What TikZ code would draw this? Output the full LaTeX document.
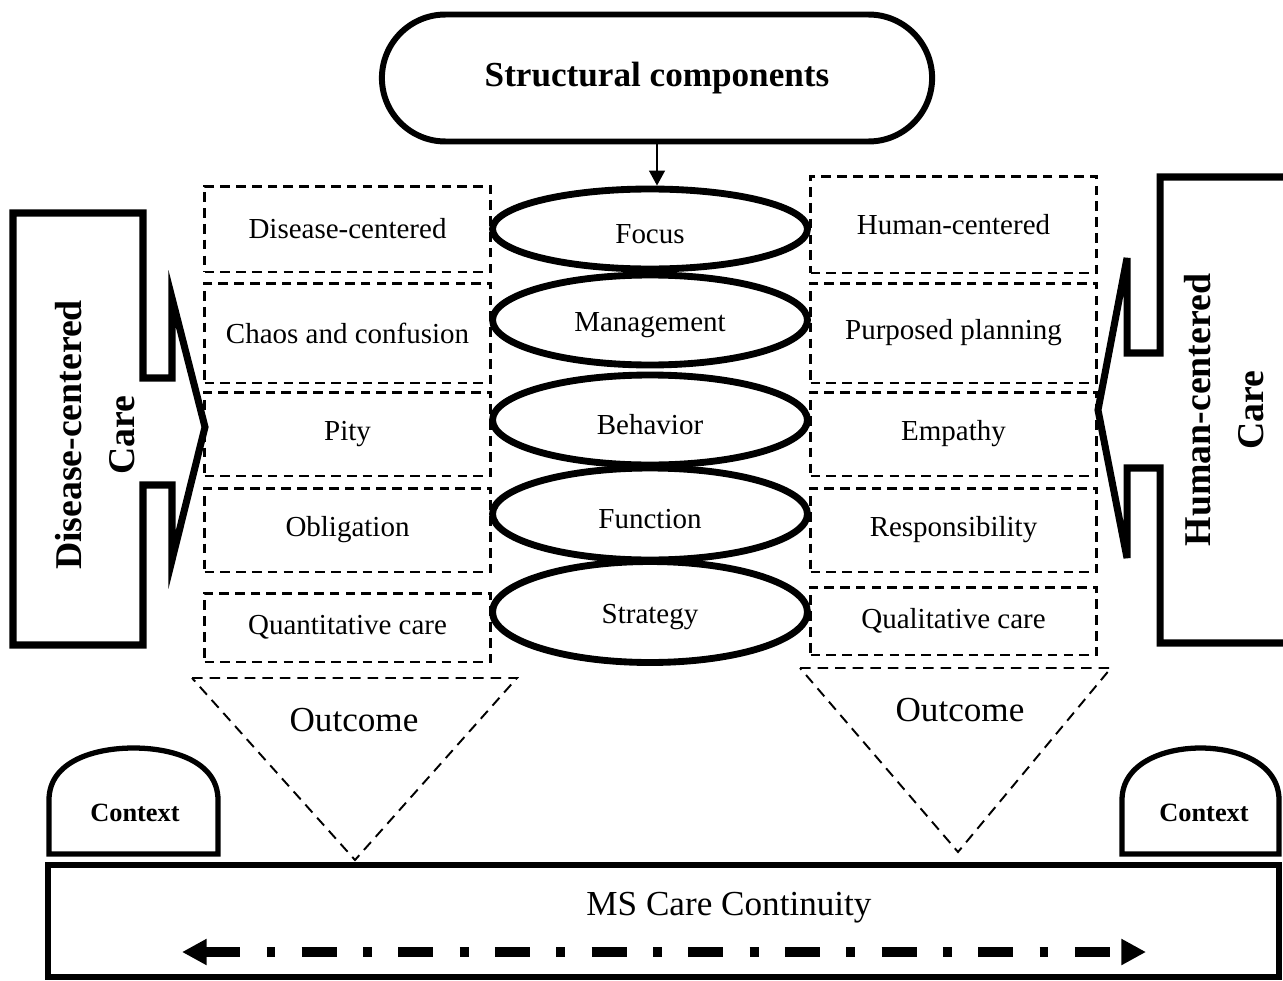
\documentclass[tikz,border=0pt]{standalone}
\usepackage{fontspec}
\setmainfont{Liberation Serif}
\usetikzlibrary{shapes,arrows,arrows.meta,positioning}

\tikzset{
  comp/.style={draw, ellipse, line width=3.9pt, minimum width=6.3cm, inner sep=0pt, text height=17pt, font=\fontsize{16.5}{19}\selectfont},
  trait/.style={draw, line width=1.7pt, dash pattern=on 5.5pt off 3.5pt, minimum width=5.72cm, inner sep=0pt, font=\fontsize{16.5}{19}\selectfont},
  bigarrow/.style={line width=4pt, line join=miter},
  caretext/.style={rotate=90, align=center, font=\bfseries\fontsize{21.5}{30}\selectfont},
  outcome/.style={line width=1.1pt, dash pattern=on 6pt off 4pt},
  ctx/.style={line width=3pt},
  ctxtext/.style={font=\bfseries\fontsize{15}{18}\selectfont},
  bigtext/.style={font=\fontsize{20}{24}\selectfont}
}

\begin{document}
\begin{tikzpicture}[x=0.02cm, y=-0.02cm]
\useasboundingbox (0,0) rectangle (1283,980);

\node[draw, rounded rectangle, line width=3.4pt, minimum width=11.24cm, minimum height=2.54cm, font=\bfseries\fontsize{20}{24}\selectfont] (struct) at (657,78) {Structural components};

% disease side
\node[trait, minimum height=1.72cm] (dis) at (347.5,229) {Disease-centered};
\node[trait, minimum height=2cm] (chaos) at (347.5,333) {Chaos and confusion};
\node[trait, minimum height=1.68cm] (pity) at (347.5,434) {Pity};
\node[trait, minimum height=1.68cm] (oblig) at (347.5,530) {Obligation};
\node[trait, minimum height=1.38cm] (quant) at (347.5,627.5) {Quantitative care};

% human side
\node[trait, minimum height=1.94cm] (hum) at (953.5,224.5) {Human-centered};
\node[trait, minimum height=2cm] (plan) at (953.5,333) {Purposed planning};
\node[trait, minimum height=1.68cm] (emp) at (953.5,434) {Empathy};
\node[trait, minimum height=1.68cm] (resp) at (953.5,530) {Responsibility};
\node[trait, minimum height=1.36cm] (qual) at (953.5,621) {Qualitative care};

\node[comp, minimum height=1.6cm] (focus) at (650,229) {Focus};
\node[comp, minimum height=1.8cm] (manage) at (650,320) {Management};
\node[comp, minimum height=1.8cm] (behav) at (650,420) {Behavior};
\node[comp, minimum height=1.84cm] (func) at (650,514) {Function};
\node[comp, minimum height=2.02cm] (strat) at (650,612) {Strategy};

\draw[-{Triangle[length=8.5pt,width=9pt]}, line width=0.9pt] (struct.south) -- (struct.south |- focus.north);

\draw[bigarrow] (13,213) -- (143,213) -- (143,378) -- (172,378) -- (172,298) -- (205,427) -- (172,560) -- (172,485) -- (143,485) -- (143,645) -- (13,645) -- cycle;
\node[caretext] (dcare) at (95,435) {Disease-centered\\Care};

\draw[bigarrow] (1290,177) -- (1160,177) -- (1160,353) -- (1127,353) -- (1127,258) -- (1098,410) -- (1127,558) -- (1127,468) -- (1160,468) -- (1160,643) -- (1290,643);
\node[caretext] (hcare) at (1224,410) {Human-centered\\Care};

\draw[outcome] (192,678) -- (517,678) -- (355,860) -- cycle;
\node[bigtext] (outl) at (354,720) {Outcome};
\draw[outcome] (800,668) -- (1111,668) -- (958,852) -- cycle;
\node[bigtext] (outr) at (960,710) {Outcome};

\draw[ctx] (49,854) -- (49,800) to[out=90,in=180] (133.5,748) to[out=0,in=90] (218,800) -- (218,854) -- cycle;
\node[ctxtext] (ctxl) at (135,813) {Context};
\draw[ctx] (1122,854) -- (1122,800) to[out=90,in=180] (1200.5,748) to[out=0,in=90] (1279,800) -- (1279,854) -- cycle;
\node[ctxtext] (ctxr) at (1204,813) {Context};

\node[draw, line width=3.4pt, minimum width=24.62cm, minimum height=2.24cm, inner sep=0pt] (ms) at (663.5,921) {};
\node[bigtext] (mstext) at (729,908) {MS Care Continuity};
\coordinate (msl) at (182,952);
\coordinate (msr) at (1146,952);
\draw[{Triangle[length=14pt,width=14pt]}-{Triangle[length=14pt,width=14pt]}, line width=5.7pt, dash pattern=on 20pt off 15pt on 5pt off 15pt] (msl) -- (msr);
\end{tikzpicture}
\end{document}
